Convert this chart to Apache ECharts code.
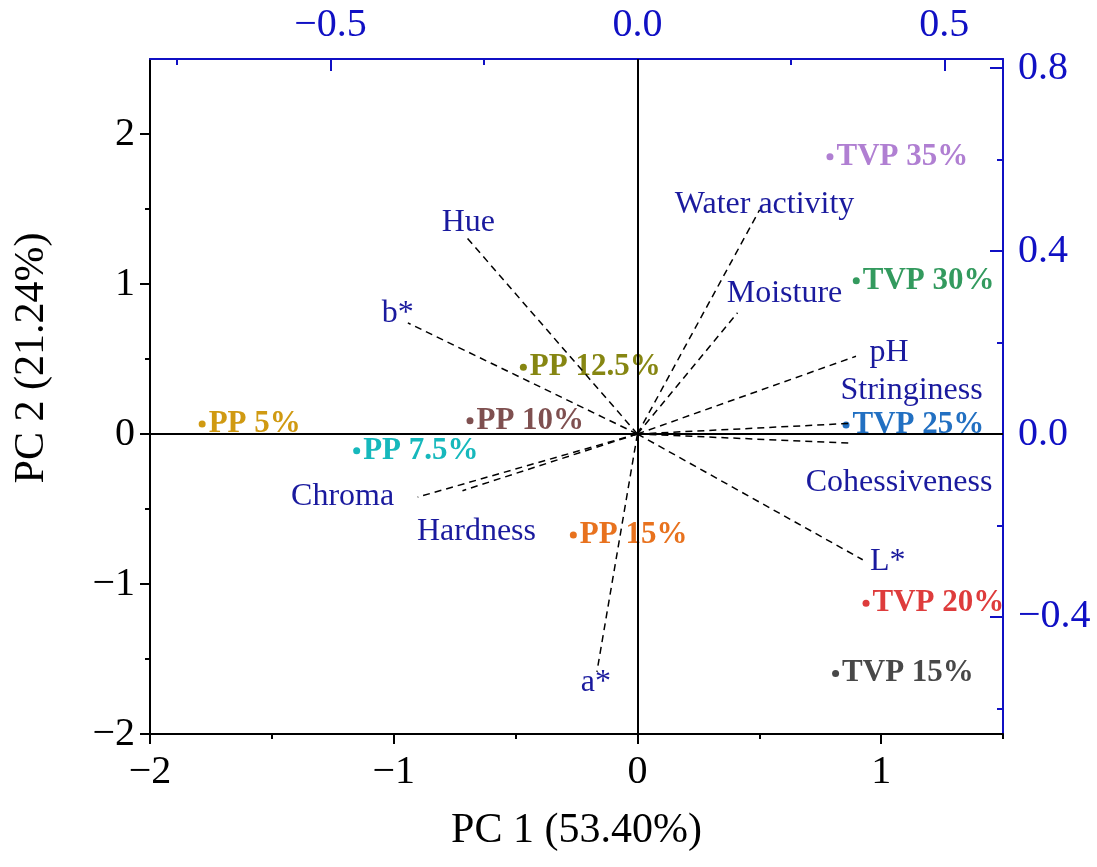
<!DOCTYPE html>
<html>
<head>
<meta charset="utf-8">
<script src="https://cdn.jsdelivr.net/npm/echarts@6/dist/echarts.min.js"></script>
<style>
  html, body { margin: 0; padding: 0; background: #fff; }
  #chart { width: 1097px; height: 867px; }
</style>
</head>
<body>
<div id="chart"></div>
<script>
// scores (bottom / left axes)
const scoreNames = ["TVP 35%", "TVP 30%", "TVP 25%", "TVP 20%", "TVP 15%",
                    "PP 15%", "PP 12.5%", "PP 10%", "PP 7.5%", "PP 5%"];
const scorePC1 = [0.79, 0.898, 0.856, 0.938, 0.813, -0.263, -0.468, -0.687, -1.152, -1.786];
const scorePC2 = [1.848, 1.021, 0.06, -1.129, -1.596, -0.673, 0.445, 0.089, -0.111, 0.067];

// loadings (top / right axes)
const loadingNames = ["Water activity", "Moisture", "pH", "Stringiness", "Cohessiveness",
                      "L*", "a*", "Hardness", "Chroma", "b*", "Hue"];
const loadingPC1 = [0.199, 0.163, 0.356, 0.344, 0.348, 0.367, -0.066, -0.285, -0.358, -0.374, -0.277];
const loadingPC2 = [0.490, 0.265, 0.170, 0.023, -0.020, -0.275, -0.520, -0.124, -0.138, 0.243, 0.428];

// tick labels
const bottomTicks = [-2, -1, 0, 1];
const leftTicks = [-2, -1, 0, 1, 2];
const topTicks = [-0.5, 0, 0.5];
const rightTicks = [-0.4, 0, 0.4, 0.8];

// styles
const scoreColors = ["#b07fd2", "#339a5e", "#2270c2", "#de3c3c", "#484848",
                     "#e8721e", "#868612", "#7f5050", "#16b8bc", "#d09a12"];
const labelOffset = {
  "Water activity": [5, -5], "Moisture": [47, -19], "pH": [33, -4],
  "Stringiness": [63, -33], "Cohessiveness": [48, 39], "L*": [25, 2],
  "a*": [-1, 11], "Hardness": [14, 41], "Chroma": [-75, -1],
  "b*": [-10, -9], "Hue": [1, -16]
};

const serif = "Liberation Serif";
const blue = "#1010c4";
const navy = "#1a1a9e";
// loading axes are the score axes scaled
const kx = 0.397, ky = 0.328;

function minus(v, d) {
  const s = d == null ? String(Math.abs(v)) : Math.abs(v).toFixed(d);
  return v < 0 ? "\u2212" + s : s;
}

function tickAxis(pos, min, max, vals, len, inside, color) {
  return {
    type: "value", position: pos, min: min, max: max,
    axisLine: { show: false, onZero: false },
    axisTick: { show: true, customValues: vals, length: len, inside: inside,
                lineStyle: { color: color, width: 2 } },
    axisLabel: { show: false }, splitLine: { show: false }
  };
}

const chart = echarts.init(document.getElementById("chart"));
chart.setOption({
  animation: false,
  backgroundColor: "#fff",
  grid: { left: 150, right: 94, top: 59, bottom: 133 },
  xAxis: [
    {
      type: "value", position: "bottom", min: -2, max: 1.5,
      axisLine: { onZero: false, lineStyle: { color: "#000", width: 2 } },
      axisTick: { customValues: bottomTicks, length: 10, lineStyle: { color: "#000", width: 2 } },
      axisLabel: { customValues: bottomTicks, formatter: v => minus(v), margin: 18,
                   fontFamily: serif, fontSize: 40, color: "#000" },
      splitLine: { show: false },
      name: "PC 1 (53.40%)", nameLocation: "middle", nameGap: 76,
      nameTextStyle: { fontFamily: serif, fontSize: 42, color: "#000" }
    },
    {
      type: "value", position: "top", min: -2 * kx, max: 1.5 * kx,
      axisLine: { onZero: false, lineStyle: { color: blue, width: 2 } },
      axisTick: { customValues: topTicks, length: 12, inside: true, lineStyle: { color: blue, width: 2 } },
      axisLabel: { customValues: topTicks, formatter: v => minus(v, 1), margin: 14,
                   fontFamily: serif, fontSize: 40, color: blue },
      splitLine: { show: false }
    },
    tickAxis("bottom", -2, 1.5, [-1.5, -0.5, 0.5, 1.5], 5, false, "#000"),
    tickAxis("top", -2 * kx, 1.5 * kx, [-0.75, -0.25, 0.25], 6, true, blue)
  ],
  yAxis: [
    {
      type: "value", position: "left", min: -2, max: 2.5,
      axisLine: { onZero: false, lineStyle: { color: "#000", width: 2 } },
      axisTick: { customValues: leftTicks, length: 10, lineStyle: { color: "#000", width: 2 } },
      axisLabel: { customValues: leftTicks, formatter: v => minus(v), margin: 15,
                   fontFamily: serif, fontSize: 40, color: "#000" },
      splitLine: { show: false }
    },
    {
      type: "value", position: "right", min: -2 * ky, max: 2.5 * ky,
      axisLine: { onZero: false, lineStyle: { color: blue, width: 2 } },
      axisTick: { customValues: rightTicks, length: 13, inside: true, lineStyle: { color: blue, width: 2 } },
      axisLabel: { customValues: rightTicks, formatter: v => minus(v, 1), margin: 15,
                   fontFamily: serif, fontSize: 40, color: blue },
      splitLine: { show: false }
    },
    tickAxis("left", -2, 2.5, [-1.5, -0.5, 0.5, 1.5], 5, false, "#000"),
    tickAxis("right", -2 * ky, 2.5 * ky, [-0.6, -0.2, 0.2, 0.6], 6, true, blue)
  ],
  graphic: [{
    type: "text", x: 32, y: 358, rotation: Math.PI / 2,
    style: { text: "PC 2 (21.24%)", font: "42px 'Liberation Serif'", fill: "#000",
             align: "center", verticalAlign: "middle" }
  }],
  series: [
    ...loadingNames.map((n, i) => ({
      type: "line", xAxisIndex: 1, yAxisIndex: 1, symbol: "none", silent: true,
      data: [[0, 0], [loadingPC1[i], loadingPC2[i]]],
      lineStyle: { color: "#000", width: 1.5, type: [7, 5] }
    })),
    {
      type: "scatter", xAxisIndex: 1, yAxisIndex: 1, symbolSize: 0, silent: true,
      itemStyle: { opacity: 1 },
      data: loadingNames.map((n, i) => ({
        value: [loadingPC1[i], loadingPC2[i]], name: n,
        label: { offset: labelOffset[n] }
      })),
      label: { show: true, position: "inside", formatter: "{b}",
               fontFamily: serif, fontSize: 32, color: navy }
    },
    {
      type: "scatter", xAxisIndex: 0, yAxisIndex: 0, symbolSize: 7, silent: true,
      itemStyle: { opacity: 1 },
      data: scoreNames.map((n, i) => ({
        value: [scorePC1[i], scorePC2[i]], name: n,
        itemStyle: { color: scoreColors[i] },
        label: { color: scoreColors[i] }
      })),
      label: { show: true, position: "right", distance: 3, formatter: "{b}",
               fontFamily: serif, fontSize: 31, fontWeight: "bold" },
      markLine: {
        silent: true, symbol: "none", label: { show: false },
        lineStyle: { color: "#000", width: 2, type: "solid" },
        data: [{ xAxis: 0 }, { yAxis: 0 }]
      }
    }
  ]
});
</script>
</body>
</html>
